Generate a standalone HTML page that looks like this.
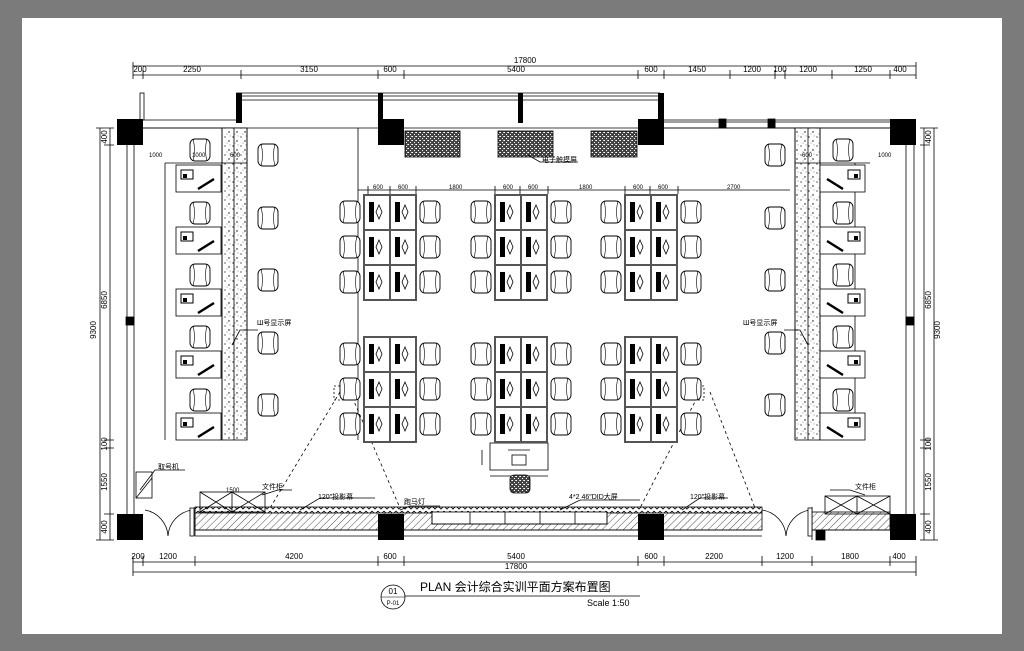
<!DOCTYPE html>
<html><head><meta charset="utf-8"><style>
html,body{margin:0;padding:0;background:#7b7b7b;}
svg{display:block}
text{font-family:"Liberation Sans","Noto Sans CJK SC",sans-serif;fill:#000}
</style></head><body>
<svg width="1024" height="651" viewBox="0 0 1024 651" xmlns="http://www.w3.org/2000/svg">
<defs>
<pattern id="hat" width="5" height="5" patternUnits="userSpaceOnUse" patternTransform="rotate(45)"><rect width="5" height="5" fill="#fff"/><line x1="0" y1="0" x2="0" y2="5" stroke="#000" stroke-width="0.7"/></pattern>
<pattern id="spk" width="8" height="9" patternUnits="userSpaceOnUse"><rect width="8" height="9" fill="#fff"/><circle cx="1" cy="2" r="0.6"/><circle cx="5" cy="6" r="0.7"/><circle cx="6" cy="1" r="0.4"/><circle cx="3" cy="8" r="0.4"/></pattern>
<pattern id="dk" width="4" height="4" patternUnits="userSpaceOnUse"><rect width="4" height="4" fill="#444"/><rect x="0" y="0" width="1" height="1" fill="#fff"/><rect x="2" y="2" width="1" height="1" fill="#fff"/><rect x="3" y="0" width="1" height="1" fill="#ccc"/></pattern>
<pattern id="zz" width="6" height="5" patternUnits="userSpaceOnUse"><rect width="6" height="5" fill="#fff"/><path d="M0 1 L3 4 L6 1" stroke="#000" fill="none" stroke-width="0.8"/></pattern>
<g id="ch"><rect x="-10" y="-11" width="20" height="22" rx="5" fill="#fff" stroke="#000" stroke-width="0.9"/><path d="M-7 -11 Q-4 0 -7 11 M7 -11 Q4 0 7 11" stroke="#000" stroke-width="0.6" fill="none"/></g>
<g id="cell"><rect x="0" y="0" width="26" height="35" fill="#fff" stroke="#555" stroke-width="2"/><rect x="5" y="7" width="5" height="20"/><path d="M15 10 L18 17 L15 24 L12 17 Z" fill="none" stroke="#000" stroke-width="0.8"/></g>
<g id="grp"><use href="#cell" x="0" y="0"/><use href="#cell" x="26" y="0"/><use href="#cell" x="0" y="35"/><use href="#cell" x="26" y="35"/><use href="#cell" x="0" y="70"/><use href="#cell" x="26" y="70"/>
<use href="#ch" x="-14" y="17"/><use href="#ch" x="-14" y="52"/><use href="#ch" x="-14" y="87"/><use href="#ch" x="66" y="17"/><use href="#ch" x="66" y="52"/><use href="#ch" x="66" y="87"/></g>
<g id="stL"><rect x="0" y="0" width="45" height="27" fill="#fff" stroke="#000" stroke-width="0.8"/><rect x="5" y="5" width="12" height="9" fill="#fff" stroke="#000"/><rect x="7" y="9" width="4" height="4"/><path d="M22 24 L38 14" stroke="#000" stroke-width="2.5"/></g>
</defs>
<rect x="22" y="18" width="980" height="616" fill="#fff"/>
<g stroke="#000" fill="none" stroke-width="0.8">
<line x1="133" y1="66" x2="916" y2="66"/><line x1="133" y1="75" x2="916" y2="75"/>
<path d="M133 62v17M143 70v9M241 70v9M378 70v9M404 70v9M638 70v9M664 70v9M730 70v9M775 70v9M785 70v9M832 70v9M890 70v9M916 62v17"/>
<line x1="133" y1="562" x2="916" y2="562"/><line x1="133" y1="572" x2="916" y2="572"/>
<path d="M133 556v20M143 556v10M195 556v10M378 556v10M404 556v10M638 556v10M664 556v10M762 556v10M812 556v10M890 556v10M916 556v20"/>
<line x1="100" y1="128" x2="100" y2="540"/><line x1="110" y1="128" x2="110" y2="540"/>
<path d="M96 128h18M104 145h10M104 440h10M104 448h10M104 514h10M96 540h18"/>
<line x1="924" y1="128" x2="924" y2="540"/><line x1="934" y1="128" x2="934" y2="540"/>
<path d="M920 128h18M920 145h10M920 440h10M920 448h10M920 514h10M920 540h18"/>
<path d="M130 120H236M236 128H130M664 120H890M664 128H890"/>
<path d="M236 93H660M236 96H660M236 100H660"/>
<rect x="140" y="93" width="4" height="27" fill="#fff"/>
<path d="M127 145V514M134 145V514M906 145V514M914 145V514"/>
<rect x="126" y="317" width="8" height="8" fill="#000"/><rect x="906" y="317" width="8" height="8" fill="#000"/>
<path d="M130 128H906"/>
<path d="M664 122H890M720 120v8M775 120v8"/>
<rect x="719" y="119" width="7" height="9" fill="#000"/><rect x="768" y="119" width="7" height="9" fill="#000"/>
<rect x="195" y="512" width="567" height="18" fill="url(#hat)"/>
<rect x="195" y="507" width="567" height="6" fill="url(#zz)"/>
<path d="M195 530H762M195 536H762M195 507V536"/>
<rect x="812" y="512" width="78" height="18" fill="url(#hat)"/><path d="M812 530H890M812 507V540"/>
<rect x="816" y="530" width="9" height="10" fill="#000"/>
<rect x="432" y="512" width="175" height="12" fill="#fff"/><path d="M432 512V524H607V512M470 512v12M505 512v12M540 512v12M575 512v12"/>
<path d="M145 510 A28 28 0 0 1 168 536 M192 510 A28 28 0 0 0 168 536"/>
<path d="M762 510 A28 28 0 0 1 786 536 M810 510 A28 28 0 0 0 786 536"/>
<rect x="190" y="508" width="4" height="28" fill="#fff"/><rect x="808" y="508" width="4" height="28" fill="#fff"/>
<rect x="222" y="128" width="25" height="312" fill="url(#spk)"/><path d="M222 128V440M247 128V440M234 128V440"/>
<rect x="795" y="128" width="25" height="312" fill="url(#spk)"/><path d="M795 128V440M820 128V440M808 128V440"/>
<path d="M165 163V440M165 163H247"/>
<path d="M855 163V440M795 163H870"/>
<rect x="405" y="131" width="55" height="26" fill="url(#dk)"/>
<rect x="498" y="131" width="55" height="26" fill="url(#dk)"/>
<rect x="591" y="131" width="46" height="26" fill="url(#dk)"/>
<path d="M358 128V440M358 190H790M368 186v8M390 186v8M416 186v8M495 186v8M520 186v8M548 186v8M625 186v8M650 186v8M678 186v8"/>
<path d="M340 392 L270 508 M350 392 L400 508 M700 392 L640 508 M710 392 L755 508" stroke-dasharray="3 3"/>
<rect x="334" y="386" width="14" height="14" stroke-dasharray="2 2"/><rect x="690" y="386" width="14" height="14" stroke-dasharray="2 2"/>
<rect x="490" y="443" width="58" height="27" fill="#fff"/><rect x="512" y="455" width="14" height="10"/><path d="M508 450H530"/>
<path d="M482 450v15M490 476H548"/>
<rect x="510" y="475" width="20" height="18" rx="4" fill="url(#dk)"/>
<rect x="200" y="492" width="65" height="20"/><path d="M200 492l32 20M232 492l-32 20M232 492l33 20M265 492l-33 20M232 492v20"/>
<rect x="825" y="496" width="65" height="18"/><path d="M825 496l32 18M857 496l-32 18M857 496l33 18M890 496l-33 18M857 496v18"/>
<rect x="136" y="472" width="16" height="26"/><path d="M136 498l16-20"/>
<path d="M262 495L278 490H292M300 510L320 498H375M400 510L410 506H440M560 510L580 500H640M682 510L700 498H728M232 345L240 330H258M808 345L800 330H784M140 490L155 470H185M865 495L850 490H830M528 155L540 162H578"/>
</g>
<g fill="#000">
<rect x="117" y="119" width="26" height="26"/><rect x="378" y="119" width="26" height="26"/><rect x="638" y="119" width="26" height="26"/><rect x="890" y="119" width="26" height="26"/>
<rect x="117" y="514" width="26" height="26"/><rect x="378" y="514" width="26" height="26"/><rect x="638" y="514" width="26" height="26"/><rect x="890" y="514" width="26" height="26"/>
<rect x="236" y="93" width="6" height="30"/><rect x="378" y="93" width="5" height="28"/><rect x="518" y="93" width="5" height="30"/><rect x="658" y="93" width="6" height="30"/>
</g>
<use href="#stL" x="176" y="165"/><use href="#stL" x="176" y="227"/><use href="#stL" x="176" y="289"/><use href="#stL" x="176" y="351"/><use href="#stL" x="176" y="413"/>
<use href="#ch" x="200" y="150"/><use href="#ch" x="200" y="213"/><use href="#ch" x="200" y="275"/><use href="#ch" x="200" y="337"/><use href="#ch" x="200" y="400"/>
<use href="#ch" x="268" y="155"/><use href="#ch" x="268" y="218"/><use href="#ch" x="268" y="280"/><use href="#ch" x="268" y="343"/><use href="#ch" x="268" y="405"/>
<g transform="translate(1041 0) scale(-1 1)"><use href="#stL" x="176" y="165"/><use href="#stL" x="176" y="227"/><use href="#stL" x="176" y="289"/><use href="#stL" x="176" y="351"/><use href="#stL" x="176" y="413"/></g>
<use href="#ch" x="843" y="150"/><use href="#ch" x="843" y="213"/><use href="#ch" x="843" y="275"/><use href="#ch" x="843" y="337"/><use href="#ch" x="843" y="400"/>
<use href="#ch" x="775" y="155"/><use href="#ch" x="775" y="218"/><use href="#ch" x="775" y="280"/><use href="#ch" x="775" y="343"/><use href="#ch" x="775" y="405"/>
<use href="#grp" x="364" y="195"/><use href="#grp" x="495" y="195"/><use href="#grp" x="625" y="195"/>
<use href="#grp" x="364" y="337"/><use href="#grp" x="495" y="337"/><use href="#grp" x="625" y="337"/>
<g font-size="8">
<text x="525" y="63" text-anchor="middle">17800</text>
<text x="140" y="72" text-anchor="middle">200</text><text x="192" y="72" text-anchor="middle">2250</text><text x="309" y="72" text-anchor="middle">3150</text><text x="390" y="72" text-anchor="middle">600</text><text x="516" y="72" text-anchor="middle">5400</text><text x="651" y="72" text-anchor="middle">600</text><text x="697" y="72" text-anchor="middle">1450</text><text x="752" y="72" text-anchor="middle">1200</text><text x="780" y="72" text-anchor="middle">100</text><text x="808" y="72" text-anchor="middle">1200</text><text x="863" y="72" text-anchor="middle">1250</text><text x="900" y="72" text-anchor="middle">400</text>
<text x="138" y="559" text-anchor="middle">200</text><text x="168" y="559" text-anchor="middle">1200</text><text x="294" y="559" text-anchor="middle">4200</text><text x="390" y="559" text-anchor="middle">600</text><text x="516" y="559" text-anchor="middle">5400</text><text x="651" y="559" text-anchor="middle">600</text><text x="714" y="559" text-anchor="middle">2200</text><text x="785" y="559" text-anchor="middle">1200</text><text x="850" y="559" text-anchor="middle">1800</text><text x="899" y="559" text-anchor="middle">400</text>
<text x="516" y="569" text-anchor="middle">17800</text>
<g transform="translate(96 330) rotate(-90)"><text text-anchor="middle">9300</text></g>
<g transform="translate(107 300) rotate(-90)"><text text-anchor="middle">6850</text></g>
<g transform="translate(107 137) rotate(-90)"><text text-anchor="middle">400</text></g>
<g transform="translate(107 444) rotate(-90)"><text text-anchor="middle">100</text></g>
<g transform="translate(107 482) rotate(-90)"><text text-anchor="middle">1550</text></g>
<g transform="translate(107 527) rotate(-90)"><text text-anchor="middle">400</text></g>
<g transform="translate(940 330) rotate(-90)"><text text-anchor="middle">9300</text></g>
<g transform="translate(931 300) rotate(-90)"><text text-anchor="middle">6850</text></g>
<g transform="translate(931 137) rotate(-90)"><text text-anchor="middle">400</text></g>
<g transform="translate(931 444) rotate(-90)"><text text-anchor="middle">100</text></g>
<g transform="translate(931 482) rotate(-90)"><text text-anchor="middle">1550</text></g>
<g transform="translate(931 527) rotate(-90)"><text text-anchor="middle">400</text></g>
</g>
<g font-size="6">
<text x="149" y="157">1000</text><text x="192" y="157">1000</text><text x="230" y="157">600</text><text x="878" y="157">1000</text><text x="802" y="157">600</text>
<text x="373" y="189">600</text><text x="398" y="189">600</text><text x="449" y="189">1800</text><text x="503" y="189">600</text><text x="528" y="189">600</text><text x="579" y="189">1800</text><text x="633" y="189">600</text><text x="658" y="189">600</text><text x="727" y="189">2700</text>
<text x="226" y="492">1500</text>
</g>
<g font-size="7">
<text x="257" y="325">Ш号显示屏</text><text x="743" y="325">Ш号显示屏</text>
<text x="542" y="162">电子触摸屏</text>
<text x="158" y="469">取号机</text>
<text x="262" y="489">文件柜</text><text x="855" y="489">文件柜</text>
<text x="318" y="499">120″投影幕</text><text x="690" y="499">120″投影幕</text>
<text x="404" y="504">跑马灯</text><text x="569" y="499">4*2 46″DID大屏</text>
</g>
<circle cx="393" cy="597" r="12" fill="none" stroke="#000" stroke-width="0.8"/>
<line x1="381" y1="597" x2="405" y2="597" stroke="#000" stroke-width="0.6"/>
<line x1="405" y1="596" x2="640" y2="596" stroke="#000" stroke-width="0.8"/>
<text x="393" y="594" font-size="8" text-anchor="middle">01</text>
<text x="393" y="605" font-size="6" text-anchor="middle">P-01</text>
<text x="420" y="591" font-size="12" font-family="Liberation Mono,'Noto Sans CJK SC',monospace">PLAN 会计综合实训平面方案布置图</text>
<text x="587" y="606" font-size="9" font-family="Liberation Mono,monospace">Scale 1:50</text>
</svg>
</body></html>
